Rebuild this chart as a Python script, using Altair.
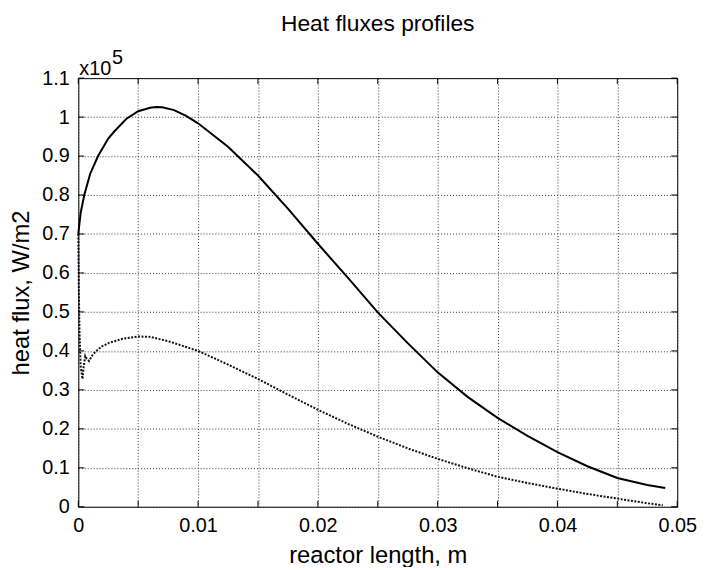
import altair as alt
import pandas as pd

# ---- data (x in m, heat flux in W/m2) ----
x_solid = [0, 0.0002, 0.0005, 0.001, 0.00165, 0.0025, 0.003, 0.004, 0.005, 0.006,
           0.0065, 0.007, 0.008, 0.009, 0.01, 0.0125, 0.015, 0.0175, 0.02, 0.0225,
           0.025, 0.0275, 0.03, 0.0325, 0.035, 0.0375, 0.04, 0.0425, 0.045, 0.0475, 0.049]
y_solid = [70000, 75500, 80000, 85500, 90000, 94500, 96300, 99500, 101500, 102400,
           102600, 102500, 101800, 100300, 98400, 92400, 85000, 76500, 67500, 58800,
           49900, 42000, 34500, 28200, 22800, 18200, 14000, 10400, 7400, 5600, 4800]

x_dot = [0, 0.00005, 0.0001, 0.0002, 0.00035, 0.00045, 0.00058, 0.0007, 0.0009, 0.0012,
         0.0015, 0.002, 0.0026, 0.0037, 0.005, 0.006, 0.0075, 0.01, 0.0125, 0.015,
         0.0175, 0.02, 0.0225, 0.025, 0.0275, 0.03, 0.0325, 0.035, 0.0375, 0.04,
         0.0425, 0.045, 0.0475, 0.0488]
y_dot = [70000, 55000, 45000, 36000, 32800, 36000, 38700, 38000, 37400, 39000,
         40000, 41200, 42100, 43100, 43700, 43600, 42500, 40000, 36500, 32800,
         28800, 24900, 21300, 18000, 15000, 12300, 9900, 7700, 6100, 4650,
         3300, 2100, 900, 400]

x_ticks = [0, 0.005, 0.01, 0.015, 0.02, 0.025, 0.03, 0.035, 0.04, 0.045, 0.05]
y_ticks = [0, 10000, 20000, 30000, 40000, 50000, 60000, 70000, 80000, 90000, 100000, 110000]

title_text = "Heat fluxes profiles"
x_title = "reactor length, m"
y_title = "heat flux, W/m2"
mult_base = ["x10"]
mult_exp = ["5"]

W, H = 605, 433
FONT = "Liberation Sans"

solid = pd.DataFrame({"x": x_solid, "y": y_solid})
dot = pd.DataFrame({"x": x_dot, "y": y_dot})
xt = pd.DataFrame({"x": x_ticks})
yt = pd.DataFrame({"y": y_ticks})
mult = pd.DataFrame({"base": mult_base, "exp": mult_exp})

xscale = alt.Scale(domain=[0, 0.05], nice=False, zero=False)
yscale = alt.Scale(domain=[0, 110000], nice=False)

xaxis = alt.Axis(
    values=x_ticks,
    labelExpr="abs(datum.value*100 - round(datum.value*100)) < 0.000001 ? format(datum.value, '~g') : ''",
    title=x_title, labelPadding=9, titlePadding=8, labelFlush=False,
)
yaxis = alt.Axis(
    values=y_ticks,
    labelExpr="format(datum.value/100000, '~g')",
    title=y_title, labelPadding=9, titlePadding=8,
)

X = alt.X("x:Q", scale=xscale, axis=xaxis)
Y = alt.Y("y:Q", scale=yscale, axis=yaxis)

line_solid = alt.Chart(solid).mark_line(color="black", strokeWidth=2).encode(x=X, y=Y)
line_dot = alt.Chart(dot).mark_line(color="#111111", strokeWidth=2, strokeDash=[2, 1.5]).encode(x=X, y=Y)

tick_len = 6
tb = alt.Chart(xt).mark_rule(color="black", strokeWidth=1).encode(x=X, y=alt.value(H), y2=alt.value(H - tick_len))
tt = alt.Chart(xt).mark_rule(color="black", strokeWidth=1).encode(x=X, y=alt.value(0), y2=alt.value(tick_len))
tl = alt.Chart(yt).mark_rule(color="black", strokeWidth=1).encode(y=Y, x=alt.value(0), x2=alt.value(tick_len))
tr = alt.Chart(yt).mark_rule(color="black", strokeWidth=1).encode(y=Y, x=alt.value(W), x2=alt.value(W - tick_len))

m1 = alt.Chart(mult).mark_text(align="left", baseline="alphabetic", fontSize=20, font=FONT, color="black").encode(
    x=alt.value(1), y=alt.value(-3), text="base:N")
m2 = alt.Chart(mult).mark_text(align="left", baseline="alphabetic", fontSize=20, font=FONT, color="black").encode(
    x=alt.value(34), y=alt.value(-14), text="exp:N")

chart = alt.layer(line_dot, line_solid, tb, tt, tl, tr, m1, m2).properties(
    width=W, height=H,
    autosize=alt.AutoSizeParams(type="none"),
    padding={"left": 71, "top": 68, "right": 22, "bottom": 58},
    title=alt.TitleParams(text=title_text, fontSize=23, font=FONT, fontWeight="normal",
                          anchor="middle", color="black", offset=13),
    background="white",
).configure_view(stroke="black", strokeWidth=1).configure_axis(
    labelFont=FONT, labelFontSize=20, labelColor="black",
    titleFont=FONT, titleFontSize=24, titleFontWeight="normal", titleColor="black",
    grid=True, gridColor="#333333", gridDash=[1, 2], gridWidth=1, gridOpacity=1,
    domain=False, ticks=False,
)

chart.save("out.html", embed_options={"renderer": "svg", "actions": False})
